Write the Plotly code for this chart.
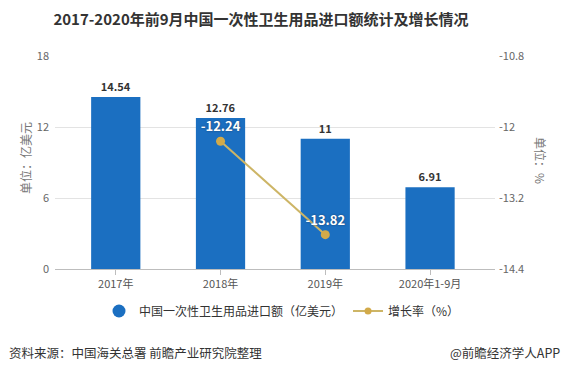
import plotly.graph_objects as go

categories = ["2017年", "2018年", "2019年", "2020年1-9月"]
import_values = [14.54, 12.76, 11, 6.91]
growth_categories = ["2018年", "2019年"]
growth_values = [-12.24, -13.82]
left_ticks = [0, 6, 12, 18]
right_ticks = [-14.4, -13.2, -12, -10.8]
right_tick_labels = ["-14.4", "-13.2", "-12", "-10.8"]

FONT = "Noto Sans CJK SC, Noto Sans, sans-serif"
BAR_COLOR = "#1b6fc1"
LINE_COLOR = "#cdb566"
MARKER_COLOR = "#d2aa4a"

W, H = 565, 372
L, R, T, B = 55, 70, 56, 103
PW, PH = W - L - R, H - T - B

def px_x(x):
    return (x - L) / PW

def px_y(y):
    return (H - B - y) / PH

fig = go.Figure()

fig.add_trace(go.Bar(
    x=categories, y=import_values, width=0.47,
    marker=dict(color=BAR_COLOR, line=dict(width=0)),
    text=[f"{v:g}" for v in import_values], textposition="outside",
    textfont=dict(family=FONT, size=11, color="#333333", weight="bold"),
    cliponaxis=False, showlegend=False, name="中国一次性卫生用品进口额（亿美元）",
))

fig.add_trace(go.Scatter(
    x=growth_categories, y=growth_values, yaxis="y2",
    mode="lines+markers+text",
    line=dict(color=LINE_COLOR, width=2),
    marker=dict(color=MARKER_COLOR, size=9),
    text=[f"{v:.2f}" for v in growth_values], textposition="top center",
    textfont=dict(family=FONT, size=13, color="#ffffff", weight="bold",
                  shadow="0px 0px 2px #1c3d66"),
    name="增长率（%）", showlegend=False, cliponaxis=False,
))

# legend entries
fig.add_trace(go.Scatter(
    x=[None], y=[None], mode="markers",
    marker=dict(color=BAR_COLOR, size=13, symbol="circle"),
    name="中国一次性卫生用品进口额（亿美元）",
))
fig.add_trace(go.Scatter(
    x=[None], y=[None], mode="lines+markers", yaxis="y2",
    line=dict(color=LINE_COLOR, width=2),
    marker=dict(color=MARKER_COLOR, size=7),
    name="增长率（%）",
))

fig.update_layout(
    width=W, height=H,
    margin=dict(l=L, r=R, t=T, b=B, autoexpand=False),
    paper_bgcolor="white", plot_bgcolor="white",
    font=dict(family=FONT, color="#666666", size=11),
    title=dict(text="<b>2017-2020年前9月中国一次性卫生用品进口额统计及增长情况</b>",
               x=261 / W, xref="container", xanchor="center",
               y=1 - 20 / H, yref="container", yanchor="middle",
               font=dict(family=FONT, size=15, color="#333333")),
    xaxis=dict(range=[-0.58, 3.62], showgrid=False,
               showline=True, linecolor="#bdbdbd", linewidth=1,
               ticks="outside", ticklen=5, tickcolor="#bdbdbd",
               tickfont=dict(size=11, color="#555555"), zeroline=False),
    yaxis=dict(range=[0, 18], tickvals=left_ticks, showgrid=True,
               gridcolor="#e3e3e3", gridwidth=1, zeroline=False,
               showline=False, ticks="", tickfont=dict(size=11, color="#666666"),
               ticklabelstandoff=5),
    yaxis2=dict(range=[-14.4, -10.8], tickvals=right_ticks, ticktext=right_tick_labels,
                overlaying="y", side="right", showgrid=False, zeroline=False,
                showline=False, ticks="", tickfont=dict(size=11, color="#666666"),
                ticklabelstandoff=3),
    legend=dict(orientation="h", x=px_x(282), xanchor="center", y=px_y(311), yanchor="middle",
                font=dict(family=FONT, size=12, color="#333333"),
                itemwidth=30, tracegroupgap=0, bgcolor="rgba(0,0,0,0)"),
    bargap=0.5,
)

annotations = [
    dict(text="单位：亿美元", x=px_x(25), y=px_y(158), textangle=-90,
         font=dict(size=12, color="#777777")),
    dict(text="单位：%", x=px_x(541), y=px_y(160), textangle=90,
         font=dict(size=12, color="#777777")),
    dict(text="资料来源：中国海关总署 前瞻产业研究院整理", x=px_x(7), y=px_y(352),
         xanchor="left", font=dict(size=12.5, color="#333333")),
    dict(text="@前瞻经济学人APP", x=px_x(562), y=px_y(352),
         xanchor="right", font=dict(size=12.5, color="#333333")),
]
for a in annotations:
    a.setdefault("xanchor", "center")
    fig.add_annotation(xref="paper", yref="paper", showarrow=False,
                       yanchor="middle", font_family=FONT, **{k: v for k, v in a.items()})

fig.write_html("out.html", config={"displayModeBar": False},
               post_script="document.body.style.margin='0';document.body.style.padding='0';")
